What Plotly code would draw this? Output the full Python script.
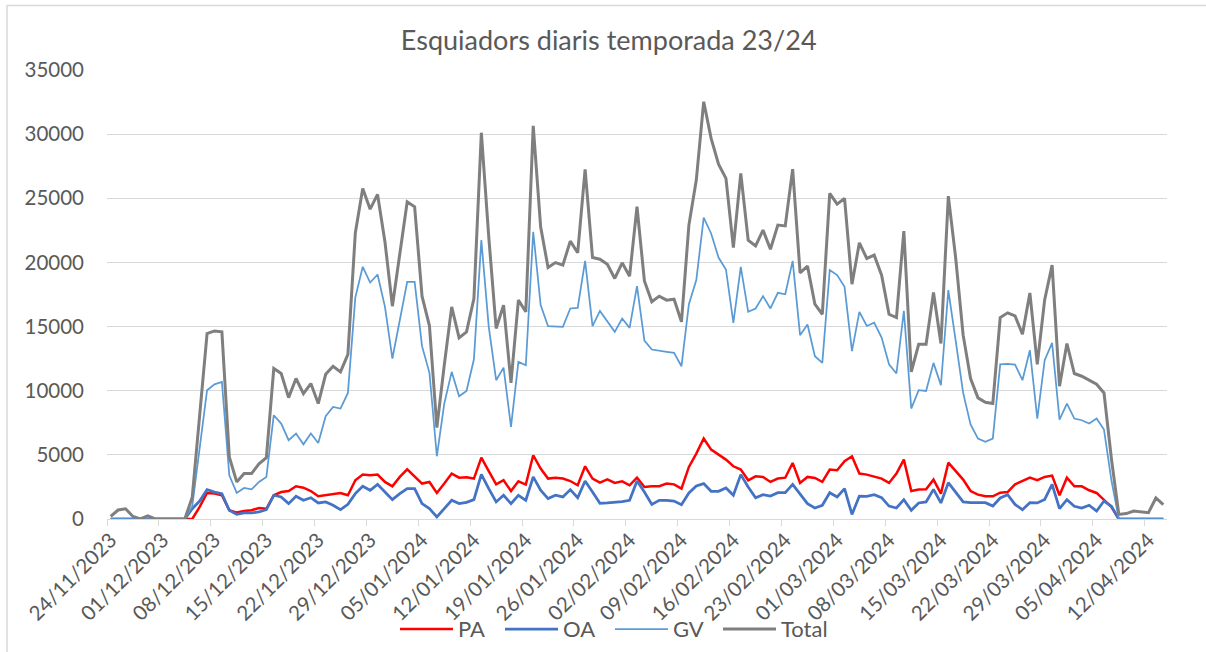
import pandas as pd
import plotly.graph_objects as go

start_date = "2023-11-24"

pa = [0, 0, 0, 0, 0, 0, 0, 0, 0, 0, 0, 0, 940, 2030, 1980, 1850, 680, 500, 620, 680,
      860, 800, 1850, 2100, 2180, 2550, 2440, 2180, 1770, 1850, 1980, 2030, 1850, 3020, 3460, 3410,
      3460, 2890, 2550, 3280, 3870, 3330, 2760, 2890, 2030, 2760, 3540, 3220, 3250, 3150, 4780, 3740,
      2700, 3020, 2180, 2940, 2680, 4970, 3930, 3150, 3220, 3150, 2960, 2630, 4110, 3150, 2830, 3090,
      2810, 2940, 2630, 3220, 2500, 2550, 2550, 2760, 2700, 2370, 4060, 5100, 6270, 5410, 5040, 4630,
      4110, 3850, 3020, 3330, 3280, 2890, 3150, 3220, 4370, 2810, 3280, 3200, 2890, 3850, 3800, 4500,
      4890, 3540, 3460, 3330, 3150, 2810, 3540, 4630, 2180, 2290, 2310, 3070, 1980, 4390, 3740, 3070,
      2180, 1900, 1770, 1770, 2050, 2100, 2700, 2960, 3220, 3020, 3280, 3380, 1850, 3220, 2550, 2550,
      2240, 2030, 1510, 940, 0, 0, 0, 0, 0, 0, 0]

oa = [0, 0, 0, 0, 0, 0, 0, 0, 0, 0, 0, 800, 1400, 2290, 2100, 1980, 680, 360, 470, 470,
      550, 730, 1850, 1720, 1200, 1770, 1460, 1660, 1250, 1330, 1070, 730, 1140, 1980, 2550, 2240,
      2700, 2110, 1510, 1980, 2370, 2370, 1200, 810, 160, 810, 1460, 1200, 1300, 1510, 3480, 2370,
      1330, 1850, 1200, 1850, 1460, 3280, 2240, 1590, 1850, 1720, 2290, 1660, 2960, 2110, 1220, 1250,
      1300, 1350, 1460, 2960, 2110, 1140, 1460, 1460, 1400, 1120, 2030, 2570, 2760, 2160, 2160, 2420,
      1850, 3460, 2500, 1660, 1900, 1790, 2050, 2050, 2700, 1900, 1200, 860, 1070, 2050, 1720, 2370,
      360, 1790, 1770, 1900, 1660, 1010, 860, 1510, 680, 1250, 1330, 2310, 1250, 2830, 2030, 1330,
      1270, 1270, 1270, 1010, 1640, 1900, 1140, 730, 1270, 1250, 1530, 2700, 810, 1510, 990, 860,
      1070, 620, 1400, 990, 0, 0, 0, 0, 0, 0, 0]

gv = [0, 0, 0, 0, 0, 0, 0, 0, 0, 0, 0, 1000, 5560, 10040, 10500, 10690, 3400, 2030, 2420, 2310,
      2890, 3280, 8090, 7440, 6140, 6660, 5820, 6660, 5930, 8010, 8740, 8610, 9830, 17260, 19660, 18430,
      19060, 16540, 12510, 15500, 18490, 18490, 13470, 11390, 4890, 9000, 11470, 9570, 9980, 12450, 21740, 14980,
      10820, 11800, 7180, 12250, 11990, 22390, 16670, 15030, 14980, 14980, 16410, 16460, 20120, 15030, 16220, 15440,
      14590, 15630, 14900, 18150, 13900, 13210, 13100, 13030, 12950, 11910, 16740, 18620, 23500, 22260, 20380, 19450,
      15290, 19660, 16150, 16410, 17370, 16410, 17630, 17520, 20120, 14330, 15160, 12690, 12170, 19400, 19010, 18100,
      13080, 16150, 15050, 15310, 14140, 12060, 11340, 16220, 8610, 10040, 9980, 12170, 10430, 17840, 13860, 9830,
      7380, 6270, 6010, 6270, 12060, 12100, 12040, 10820, 13160, 7830, 12380, 13730, 7750, 9000, 7830, 7700,
      7440, 7830, 6970, 3020, 0, 0, 0, 0, 0, 0, 0]

total = [200, 700, 800, 200, 0, 250, 0, 0, 0, 0, 0, 1700, 8000, 14450, 14660, 14590, 4840, 2890, 3540, 3540,
         4300, 4780, 11730, 11340, 9460, 10950, 9780, 10560, 9000, 11280, 11910, 11470, 12840, 22300, 25770, 24150,
         25300, 21600, 16590, 20700, 24730, 24340, 17370, 15060, 7120, 11990, 16540, 14120, 14590, 17190, 30110, 22000,
         14850, 16670, 10610, 17060, 16150, 30650, 22780, 19600, 19990, 19790, 21660, 20750, 27250, 20380, 20250, 19860,
         18750, 19970, 18930, 24340, 18560, 16930, 17370, 17060, 17130, 15370, 22910, 26420, 32530, 29670, 27660, 26550,
         21160, 26940, 21740, 21290, 22520, 21030, 22910, 22850, 27270, 19190, 19710, 16740, 15960, 25380, 24540, 24990,
         18300, 21530, 20310, 20570, 19010, 15960, 15700, 22440, 11470, 13620, 13620, 17650, 13680, 25170, 20310, 14330,
         10950, 9440, 9100, 9000, 15700, 16070, 15830, 14400, 17620, 12060, 17100, 19790, 10350, 13680, 11340, 11130,
         10820, 10500, 9830, 4700, 360, 420, 620, 550, 490, 1640, 1120]

dates = pd.date_range(start_date, periods=len(total), freq="D")

series = [
    ("PA", pa, "#FF0000", 2.5),
    ("OA", oa, "#4472C4", 2.75),
    ("GV", gv, "#5B9BD5", 1.75),
    ("Total", total, "#7F7F7F", 3),
]

FONT = "Lato"
TXT = "#595959"
GRID = "#D9D9D9"

W, H = 1206, 652
ML, MR, MT, MB = 107, 39, 70, 133
PW, PH = W - ML - MR, H - MT - MB


def px_x(px):
    return (px - ML) / PW


def px_y(py):
    return (H - MB - py) / PH


fig = go.Figure()
for name, vals, col, w in series:
    fig.add_trace(go.Scatter(x=dates, y=vals, name=name, mode="lines",
                             line=dict(color=col, width=w), showlegend=False))

x0 = dates[0] - pd.Timedelta(hours=12)
x1 = dates[-1] + pd.Timedelta(hours=12)

# manual legend (Excel style: long line sample followed by label)
legend_left = [400, 505, 615, 723]
shapes = [dict(type="rect", xref="paper", yref="paper",
               x0=px_x(7), x1=px_x(1212), y0=px_y(660), y1=px_y(5.5),
               line=dict(color=GRID, width=1.5), fillcolor="rgba(0,0,0,0)", layer="below")]
annotations = []
for (name, vals, col, w), lx in zip(series, legend_left):
    shapes.append(dict(type="line", xref="paper", yref="paper",
                       x0=px_x(lx), x1=px_x(lx + 53), y0=px_y(629), y1=px_y(629),
                       line=dict(color=col, width=w)))
    annotations.append(dict(text=name, xref="paper", yref="paper", x=px_x(lx + 56),
                            y=px_y(628), xanchor="left", yanchor="middle", showarrow=False,
                            font=dict(size=22, color=TXT, family=FONT)))

fig.update_layout(
    width=W, height=H,
    margin=dict(l=ML, r=MR, t=MT, b=MB, autoexpand=False),
    paper_bgcolor="white", plot_bgcolor="white",
    font=dict(family=FONT, color=TXT, size=20),
    title=dict(text="Esquiadors diaris temporada 23/24", x=608.7 / W, xref="container",
               xanchor="center", y=1 - 41 / H, yref="container", yanchor="middle",
               font=dict(size=27, color=TXT, family=FONT)),
    xaxis=dict(
        type="date", range=[x0, x1], tickmode="linear", automargin=False,
        tick0=dates[0], dtick=7 * 86400000, tickformat="%d/%m/%Y",
        tickangle=-45, showgrid=False, showline=True, linecolor=GRID, linewidth=1,
        ticks="", ticklabelstandoff=0,
        tickfont=dict(size=20.5, color=TXT, family=FONT),
        minor=dict(tick0=x0, dtick=7 * 86400000, ticks="outside", ticklen=6,
                   tickcolor=GRID, tickwidth=1, showgrid=False),
        zeroline=False,
    ),
    yaxis=dict(
        range=[0, 35000], tickmode="linear", tick0=0, dtick=5000, tickformat="d",
        automargin=False,
        showgrid=True, gridcolor=GRID, gridwidth=1, zeroline=False,
        showline=False, ticks="", ticklabelstandoff=22,
        tickfont=dict(size=20.5, color=TXT, family=FONT),
    ),
    showlegend=False,
    shapes=shapes,
    annotations=annotations,
)

fig.write_html("out.html", config={"displayModeBar": False},
               post_script="document.body.style.margin='0';")
